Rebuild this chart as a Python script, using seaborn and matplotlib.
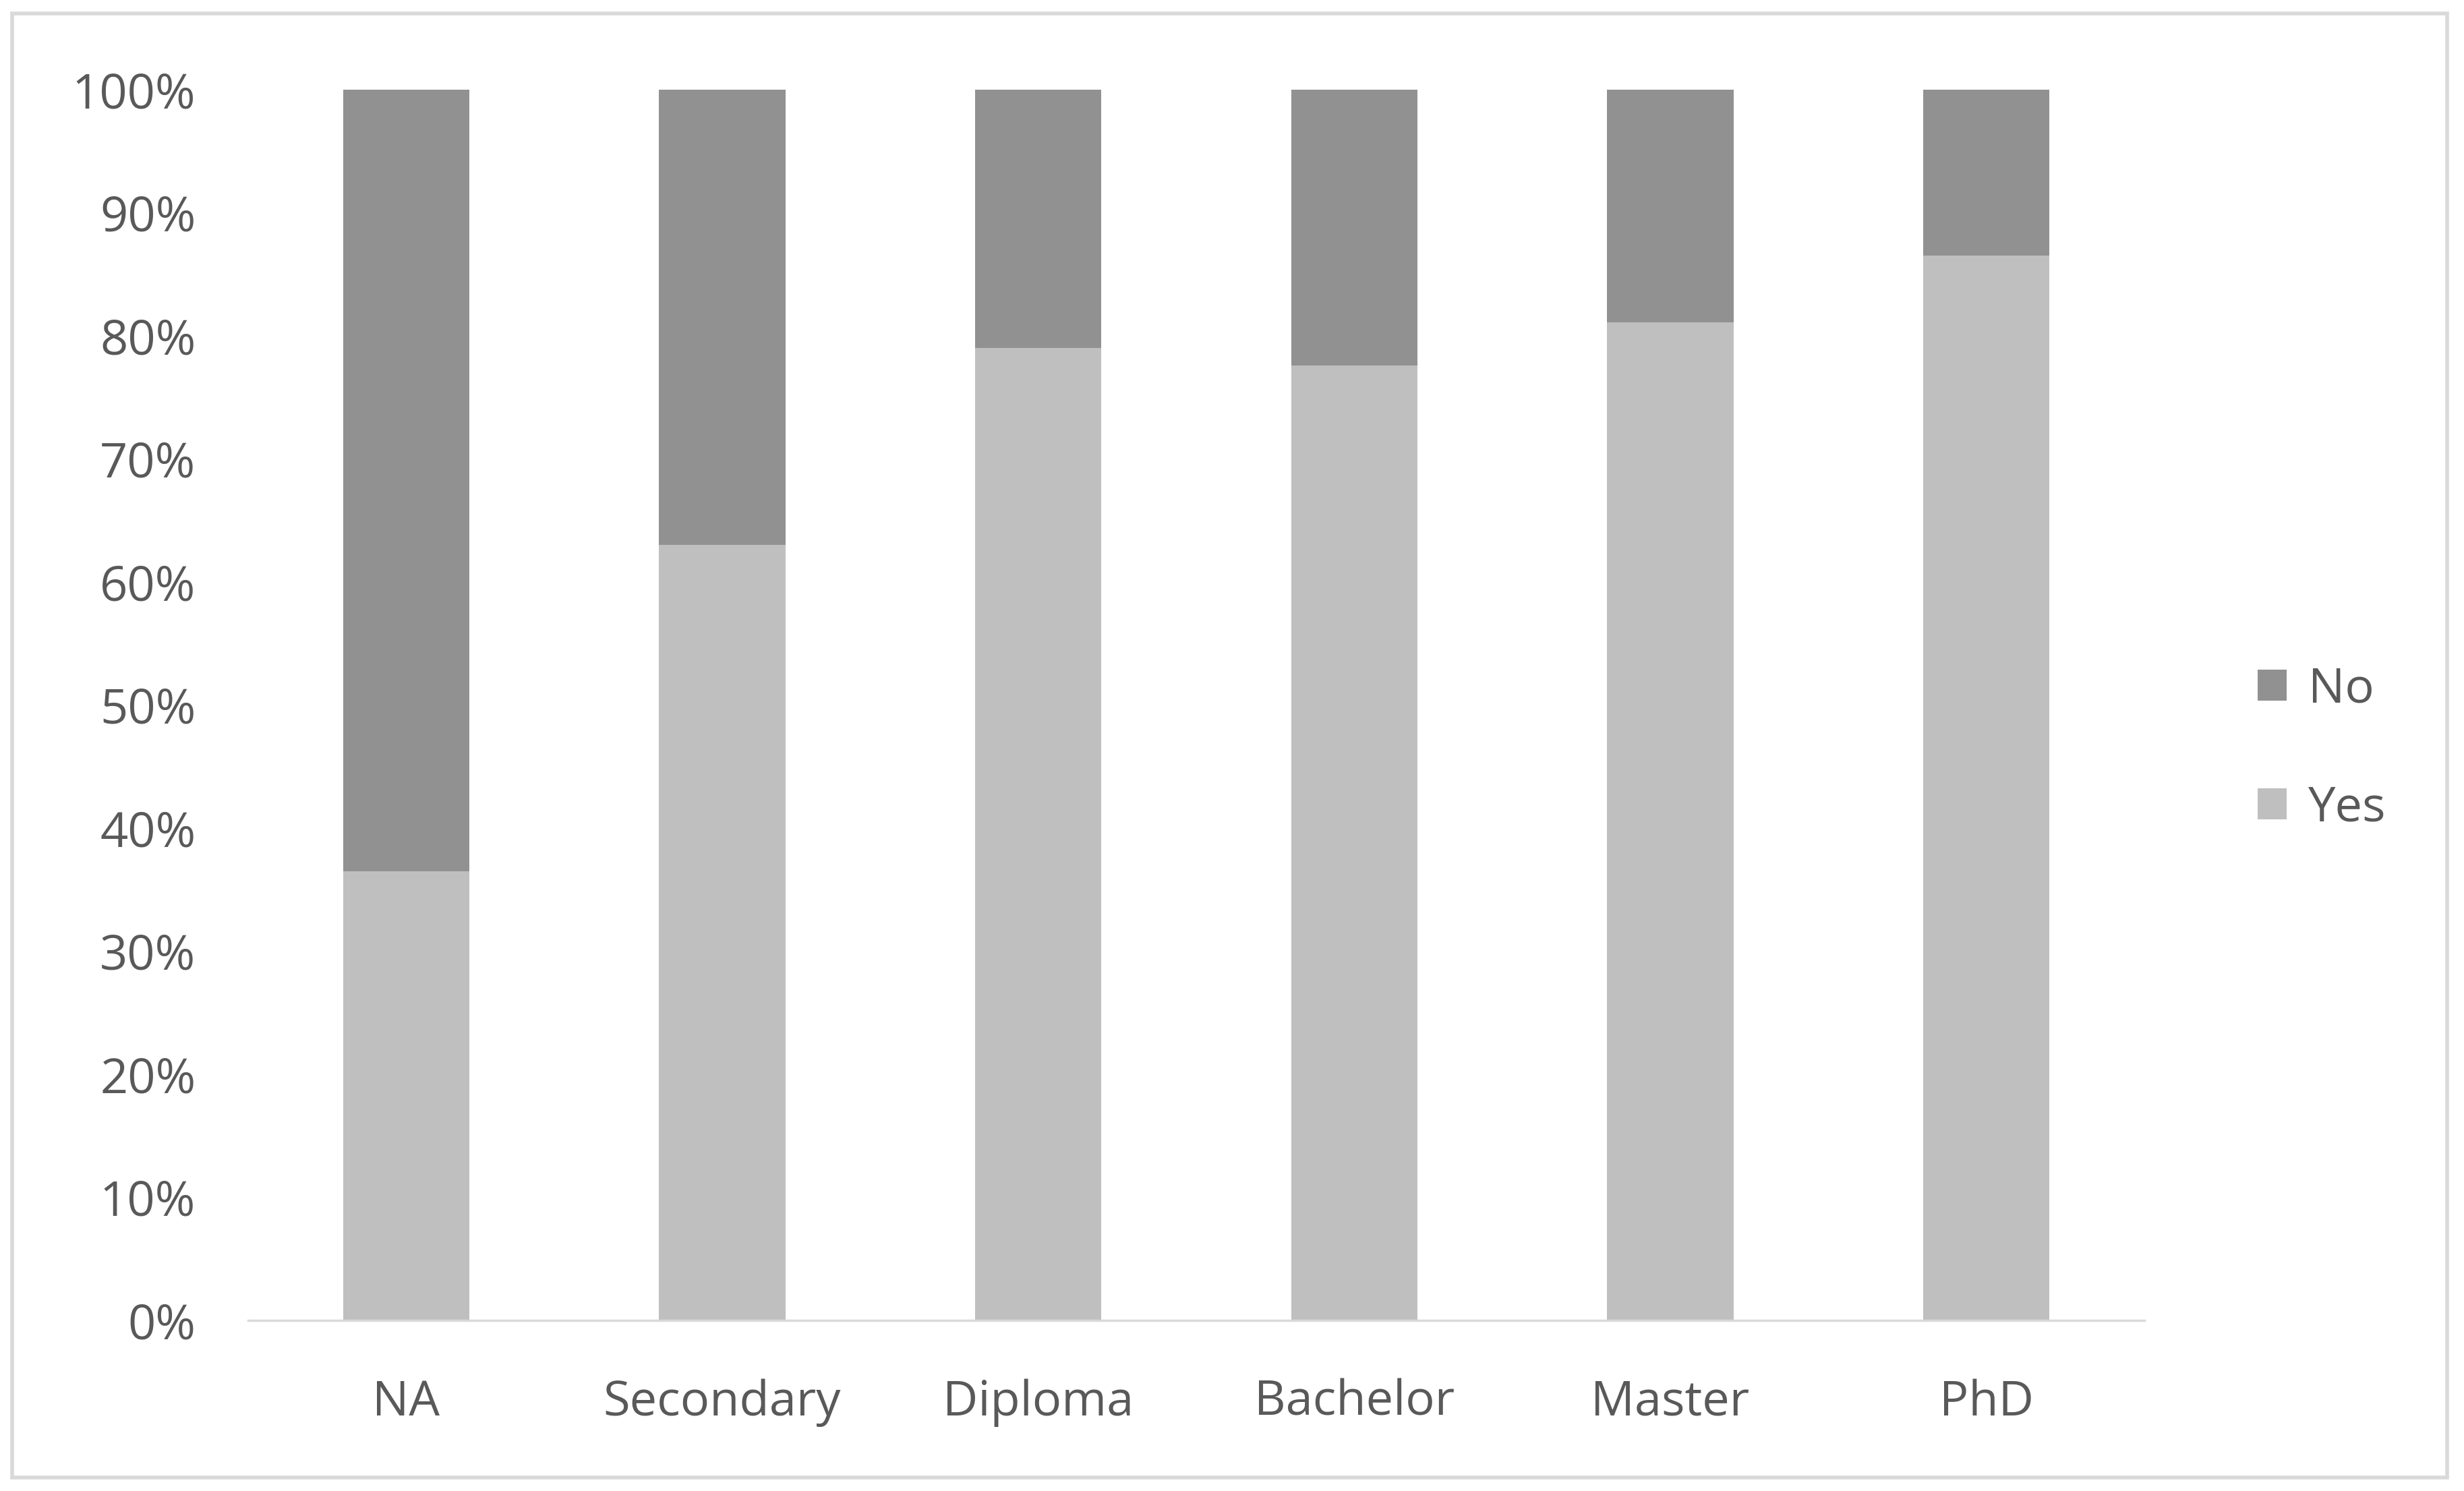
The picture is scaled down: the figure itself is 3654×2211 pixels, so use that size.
import numpy as np
import pandas as pd
import matplotlib
matplotlib.use('Agg')
import matplotlib.pyplot as plt
from matplotlib.patches import Patch, Rectangle
from matplotlib.ticker import FuncFormatter
import seaborn as sns

# values (percent of respondents)
education = ['NA', 'Secondary', 'Diploma', 'Bachelor', 'Master', 'PhD']
yes_pct = [36.5, 63.0, 79.0, 77.6, 81.1, 86.5]
no_pct = [63.5, 37.0, 21.0, 22.4, 18.9, 13.5]

df = pd.DataFrame({'education': education, 'Yes': yes_pct, 'No': no_pct})
df['total'] = df['Yes'] + df['No']

sns.set_theme(style='white')
plt.rcParams['font.family'] = ['Open Sans', 'DejaVu Sans']

color_no = '#919191'
color_yes = '#bfbfbf'
text_color = '#595959'

fig = plt.figure(figsize=(36.55, 22.11), dpi=100)
ax = fig.add_axes([0.1007, 0.1144, 0.7693, 0.8254])

# stacked: full bar in "No" colour, then "Yes" on top of it from the bottom
sns.barplot(data=df, x='education', y='total', color=color_no, width=0.40,
            saturation=1, linewidth=0, ax=ax)
sns.barplot(data=df, x='education', y='Yes', color=color_yes, width=0.40,
            saturation=1, linewidth=0, ax=ax)

ax.set_xlim(-0.5, len(education) - 0.5)
ax.set_ylim(0, 100)
ax.set_yticks(np.arange(0, 101, 10))
ax.yaxis.set_major_formatter(FuncFormatter(lambda v, p: f'{v:.0f}%'))
ax.set_xlabel('')
ax.set_ylabel('')
ax.tick_params(axis='y', length=0, pad=56, labelsize=52, labelcolor=text_color)
ax.tick_params(axis='x', length=0, pad=62, labelsize=52, labelcolor=text_color)

for side in ['top', 'right', 'left']:
    ax.spines[side].set_visible(False)
ax.spines['bottom'].set_color('#d9d9d9')
ax.spines['bottom'].set_linewidth(2.5)
ax.grid(False)

handles = [Patch(facecolor=color_no, edgecolor='none', label='No'),
           Patch(facecolor=color_yes, edgecolor='none', label='Yes')]
leg = fig.legend(handles=handles, loc='center left', bbox_to_anchor=(0.906, 0.4975),
                 frameon=False, fontsize=52, handlelength=0.6, handleheight=0.6,
                 handletextpad=0.45, labelspacing=1.45, borderpad=0)
for t in leg.get_texts():
    t.set_color(text_color)

# outer chart border
fig.patches.append(Rectangle((0.005, 0.009), 0.988, 0.982, transform=fig.transFigure,
                             fill=False, edgecolor='#d9d9d9', linewidth=4))

fig.savefig('out.png', dpi=100)
